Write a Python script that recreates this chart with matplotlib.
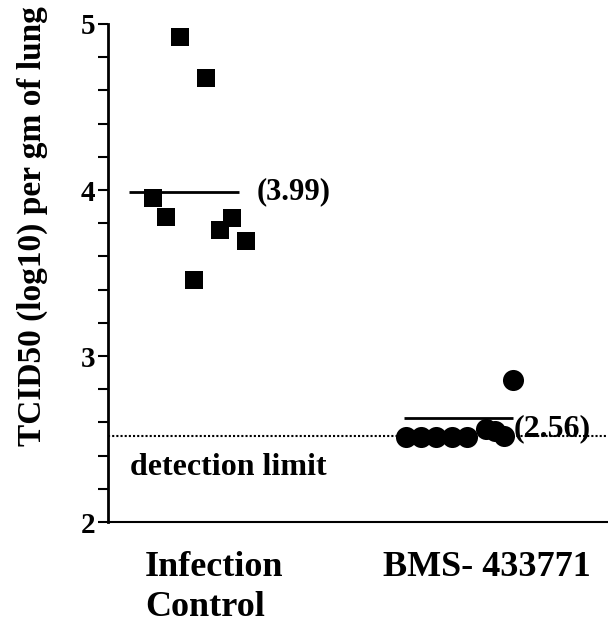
import matplotlib
matplotlib.use("Agg")
import matplotlib.pyplot as plt
from matplotlib.ticker import MultipleLocator

plt.rcParams["font.family"] = ["Liberation Serif", "DejaVu Serif"]
plt.rcParams["font.weight"] = "bold"

# -----------------------------
# Data
# -----------------------------
groups = ["Infection\nControl", "BMS- 433771"]
group_pos = [1, 2]

# x jitter of each point inside its group, values in log10 TCID50
control_dx = [-0.015, 0.08, -0.113, -0.065, 0.131, 0.175, 0.225, 0.036]
control_vals = [4.92, 4.675, 3.95, 3.84, 3.76, 3.83, 3.69, 3.46]

bms_dx = [-0.19, -0.135, -0.08, -0.025, 0.03, 0.10, 0.135, 0.165, 0.20]
bms_vals = [2.51, 2.51, 2.51, 2.51, 2.51, 2.56, 2.55, 2.52, 2.855]

mean_lines = [3.99, 2.625]
mean_labels = ["(3.99)", "(2.56)"]
detection_limit = 2.52

# -----------------------------
# Plot
# -----------------------------
fig = plt.figure(figsize=(6.08, 6.23), dpi=100)
ax = fig.add_axes([0.1776, 0.162, 0.8224, 0.7995])

ax.scatter([group_pos[0] + d for d in control_dx], control_vals,
           marker="s", s=150, color="black", zorder=3, linewidths=0)
ax.scatter([group_pos[1] + d for d in bms_dx], bms_vals,
           marker="o", s=230, color="black", zorder=3, linewidths=0)

# group means
for x, m in zip(group_pos, mean_lines):
    ax.hlines(m, x - 0.2, x + 0.2, color="black", lw=2, zorder=2)
ax.text(group_pos[0] + 0.265, mean_lines[0], mean_labels[0],
        fontsize=22, fontweight="bold", va="center", ha="left")
ax.text(group_pos[1] + 0.2, 2.56, mean_labels[1],
        fontsize=23, fontweight="bold", va="center", ha="left")

# detection limit
ax.axhline(detection_limit, color="black", lw=1.5, ls=(0, (1, 1)), zorder=1)
ax.text(0.805, 2.33, "detection limit", fontsize=23, fontweight="bold",
        va="center", ha="left")

# axes
ax.set_xlim(0.723, 2.545)
ax.set_ylim(2, 5)
ax.set_yticks([2, 3, 4, 5])
ax.yaxis.set_minor_locator(MultipleLocator(0.2))
ax.tick_params(axis="y", which="both", direction="out", length=7, width=1.5,
               labelsize=21, pad=2)
ax.set_xticks([])
for lbl in ax.get_yticklabels():
    lbl.set_fontweight("bold")

ax.spines["top"].set_visible(False)
ax.spines["right"].set_visible(False)
ax.spines["left"].set_linewidth(2)
ax.spines["bottom"].set_linewidth(1.5)

ax.set_ylabel("TCID50 (log10) per gm of lung", fontsize=24, fontweight="bold")
ax.yaxis.set_label_coords(-0.12, 0.594)

# category labels under the axis
label_dx = [-0.142, -0.275]
for x, dx, name in zip(group_pos, label_dx, groups):
    ax.text(x + dx, 1.825, name, fontsize=26, fontweight="bold",
            ha="left", va="top", linespacing=1.27)

fig.savefig("out.png", dpi=100)
